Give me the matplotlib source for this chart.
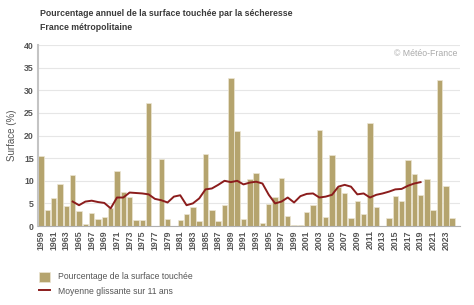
# Pourcentage annuel de la surface touchée par la sécheresse - France métropolitaine
import numpy as np
import matplotlib
matplotlib.use("Agg")
import matplotlib.pyplot as plt

plt.rcParams["font.family"] = ["Liberation Sans", "DejaVu Sans"]

# -----------------------------------------------------------------
# Données
# -----------------------------------------------------------------
years = list(range(1959, 2025))
surface = [
    15.4, 3.6, 6.2, 9.2, 4.4, 11.3, 3.4, 0.4, 2.9, 1.6,   # 1959-1968
    1.9, 3.9, 12.2, 7.5, 6.4, 1.4, 1.4, 27.3, 0.0, 14.9,  # 1969-1978
    1.5, 0.0, 1.3, 2.7, 4.2, 1.0, 15.9, 3.5, 1.0, 4.6,    # 1979-1988
    32.8, 21.0, 1.5, 10.5, 11.7, 0.6, 4.9, 6.4, 10.7, 2.2, # 1989-1998
    0.2, 0.2, 3.0, 4.6, 21.2, 2.0, 15.7, 8.6, 7.4, 1.7,   # 1999-2008
    5.5, 2.7, 22.7, 4.3, 0.0, 1.7, 6.7, 5.5, 14.7, 11.4,  # 2009-2018
    6.9, 10.4, 3.5, 32.3, 8.8, 1.7,                       # 2019-2024
]

ma_years = list(range(1964, 2020))
moyenne_11 = [
    5.4, 4.6, 5.4, 5.6, 5.3, 5.1, 3.9, 6.3, 6.3, 7.4,     # 1964-1973
    7.3, 7.2, 7.0, 6.0, 5.7, 5.2, 6.5, 6.8, 4.6, 5.0,     # 1974-1983
    6.1, 8.1, 8.3, 9.1, 10.0, 9.7, 10.0, 9.2, 9.6, 9.8,   # 1984-1993
    9.4, 6.9, 5.0, 5.4, 6.3, 5.2, 6.6, 7.1, 7.2, 6.3,     # 1994-2003
    6.5, 6.9, 8.7, 9.1, 8.7, 7.0, 7.2, 6.3, 6.9, 7.2,     # 2004-2013
    7.6, 8.1, 8.2, 8.9, 9.4, 9.7,                         # 2014-2019
]

tick_years = list(range(1959, 2024, 2))

# -----------------------------------------------------------------
# Figure
# -----------------------------------------------------------------
fig = plt.figure(figsize=(4.74, 3.05), dpi=100)
ax = fig.add_axes([0.080, 0.259, 0.890, 0.593])

bars = ax.bar(years, surface, width=0.86, color="#b5a46e",
              edgecolor="#ece6d4", linewidth=0.5, zorder=2,
              label="Pourcentage de la surface touchée")
line, = ax.plot(ma_years, moyenne_11, color="#8b1c1c", linewidth=1.4,
                zorder=3, label="Moyenne glissante sur 11 ans")

ax.set_xlim(1958.5, 2025.2)
ax.set_ylim(0, 40)
ax.set_yticks(range(0, 41, 5))
ax.set_xticks(tick_years)
ax.set_xticklabels([str(y) for y in tick_years], rotation=90)

ax.grid(axis="y", color="#e6e6e6", linewidth=0.8, zorder=0)
ax.set_axisbelow(True)
for s in ["top", "right"]:
    ax.spines[s].set_visible(False)
ax.spines["left"].set_color("#c4c4c4")
ax.spines["left"].set_linewidth(1.5)
ax.spines["bottom"].set_color("#b0b0b0")
ax.spines["bottom"].set_linewidth(0.8)

ax.tick_params(axis="both", length=0, labelsize=6.3, labelcolor="#555555", pad=3)
for lab in ax.get_xticklabels() + ax.get_yticklabels():
    lab.set_fontweight("bold")

ax.set_ylabel("Surface (%)", fontsize=7, color="#555555", labelpad=5)

# Titres
fig.text(0.084, 0.955, "Pourcentage annuel de la surface touchée par la sécheresse",
         fontsize=6.3, fontweight="bold", color="#3a3a3a", va="center")
fig.text(0.084, 0.91, "France métropolitaine",
         fontsize=6.3, fontweight="bold", color="#3a3a3a", va="center")

ax.text(0.995, 0.955, "© Météo-France", transform=ax.transAxes,
        ha="right", va="center", fontsize=6.3, color="#aaaaaa")

# Légende
fig.legend(handles=[bars, line], loc="upper left",
           bbox_to_anchor=(0.065, 0.135), frameon=False,
           fontsize=6.2, labelcolor="#555555",
           handlelength=1.3, handleheight=1.4, handletextpad=0.9,
           labelspacing=0.55)

fig.savefig("out.png", dpi=100)
